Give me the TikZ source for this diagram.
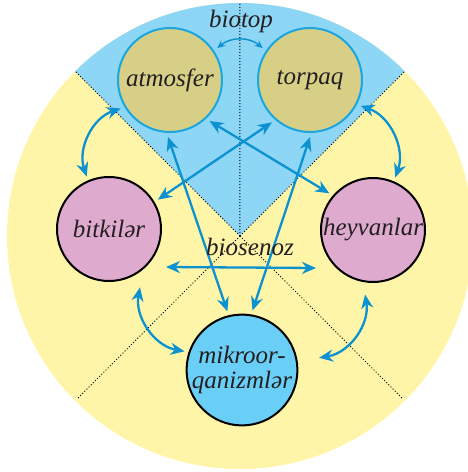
\documentclass[tikz,border=0pt]{standalone}
\usepackage{fontspec}
\setmainfont{Liberation Serif}
\usetikzlibrary{arrows.meta,calc}
\definecolor{sunyellow}{HTML}{FFF5A8}
\definecolor{skyblue}{HTML}{8DD6F5}
\definecolor{khaki}{HTML}{D8CF87}
\definecolor{rosepink}{HTML}{DEAACE}
\definecolor{microblue}{HTML}{6ACFF6}
\definecolor{arrowblue}{HTML}{0C92D0}
\definecolor{rimblue}{HTML}{1BA6E0}
\definecolor{inkdark}{HTML}{231F20}

\begin{document}
\begin{tikzpicture}[x=1pt,y=1pt,
    blob/.style={circle,minimum size=104pt,inner sep=0pt,outer sep=5pt,line width=2pt,
      font=\fontsize{25}{25}\selectfont\itshape,text=inkdark,align=center},
    link/.style={{Stealth[length=14pt,width=12pt]}-{Stealth[length=14pt,width=12pt]},
      line width=2.3pt,draw=arrowblue},
    thinlink/.style={{Stealth[length=8pt,width=7pt]}-{Stealth[length=8pt,width=7pt]},
      line width=1.4pt,draw=arrowblue}]
  \useasboundingbox (-240,-236) rectangle (227,236);
  % background: ecosystem disc and biotope sector
  \fill[sunyellow] (0,0) circle (233);
  \fill[skyblue] (0,0) -- (45:233) arc (45:135:233) -- cycle;
  \draw[line width=1pt,dash pattern=on 1pt off 2pt] (0,0) -- (135:232) (0,0) -- (90:233) (0,0) -- (45:232)
    (0,0) -- (-135:229) (0,0) -- (-45:229);
  % components
  \node[blob,fill=khaki,draw=rimblue] (atm) at (-70,156) {atmosfer};
  \node[blob,fill=khaki,draw=rimblue] (tor) at (70,156) {torpaq};
  \node[blob,fill=rosepink,draw=black] (bit) at (-131,7) {bitkilər};
  \node[blob,fill=rosepink,draw=black] (hey) at (133,6) {heyvanlar};
  \node[blob,fill=microblue,draw=black] (mik) at (2,-134) {mikroor-\\qanizmlər};
  % links
  \draw[thinlink] (atm.34) to[bend left=40] (tor.146);
  \draw[link] (atm.210) to[bend right=45] (bit.113);
  \draw[link] (tor.333) to[bend left=45] (hey.67);
  \draw[link] (atm.-46) -- (hey.140);
  \draw[link] (tor.228) -- (bit.31);
  \draw[link] (atm.268) -- (mik.104);
  \draw[link] (tor.270) -- (mik.80);
  \draw[link] ([yshift=-38pt]bit.east) -- ([yshift=-38pt]hey.west);
  \draw[link] ($(bit)+(298:66)$) to[bend right=45] (mik.162);
  \draw[link] ($(hey)+(263:65)$) to[bend left=45] ($(mik)+(9:78)$);
  % labels
  \node[anchor=base,font=\fontsize{25}{25}\selectfont\itshape,text=inkdark] (biotop) at (1,208) {biotop};
  \node[anchor=base,font=\fontsize{25}{25}\selectfont\itshape,text=inkdark] (biosenoz) at (10,-19) {biosenoz};
\end{tikzpicture}
\end{document}
